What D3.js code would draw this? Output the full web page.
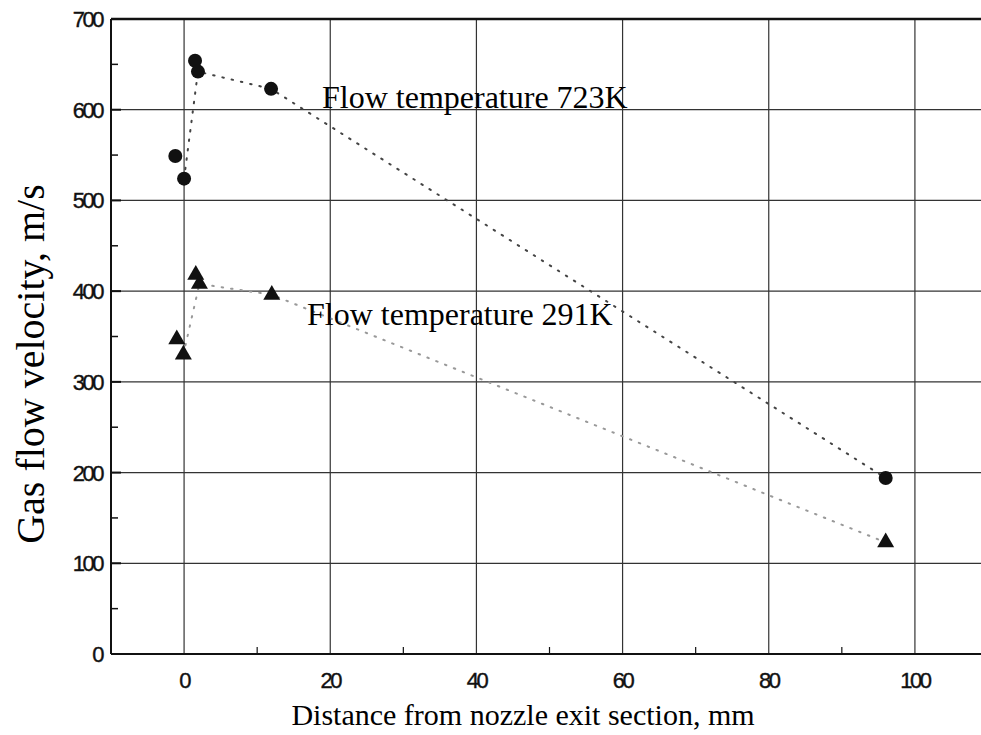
<!DOCTYPE html>
<html><head><meta charset="utf-8">
<script src="https://cdn.jsdelivr.net/npm/d3@7"></script>
<style>body{margin:0;background:#fff;} svg{display:block;}</style>
</head><body>
<script>
// ---- data ----
const hotX = [-1.2, 0, 1.5, 1.9, 11.9, 96];
const hotY = [549, 524, 654, 642, 623, 194];
const coldX = [1.6, 2.1, 12, -1.0, -0.1, 96];
const coldY = [418, 408, 396, 347, 330, 123];
const hotLineX = [0, 1.9, 11.9, 96];
const hotLineY = [524, 642, 623, 194];
const coldLineX = [-0.1, 2.1, 12, 96];
const coldLineY = [330, 408, 396, 123];
const xTicks = [0, 20, 40, 60, 80, 100];
const xMinor = [-10, 10, 30, 50, 70, 90, 110];
const yTicks = [0, 100, 200, 300, 400, 500, 600, 700];
const yMinor = [50, 150, 250, 350, 450, 550, 650];
const hotLabel = "Flow temperature 723K";
const coldLabel = "Flow temperature 291K";
const xTitle = "Distance from nozzle exit section, mm";
const yTitle = "Gas flow velocity, m/s";

const W = 981, H = 735;
const L = 111, R = 988, T = 19, B = 654;
const svg = d3.select("body").append("svg").attr("width", W).attr("height", H);
const x = d3.scaleLinear().domain([-10, 110]).range([L, R]);
const y = d3.scaleLinear().domain([0, 700]).range([B, T]);

// grid
const g = svg.append("g");
g.selectAll("line.vg").data(xTicks).enter().append("line")
  .attr("x1", d => x(d)).attr("x2", d => x(d)).attr("y1", T).attr("y2", B)
  .attr("stroke", "#333").attr("stroke-width", 1.2);
g.selectAll("line.hg").data(yTicks.filter(d => d > 0 && d < 700)).enter().append("line")
  .attr("x1", L).attr("x2", R).attr("y1", d => y(d)).attr("y2", d => y(d))
  .attr("stroke", "#333").attr("stroke-width", 1.2);

// minor ticks
g.selectAll("line.xm").data(xMinor).enter().append("line")
  .attr("x1", d => x(d)).attr("x2", d => x(d)).attr("y1", B).attr("y2", B - 7)
  .attr("stroke", "#111").attr("stroke-width", 1.2);
g.selectAll("line.ym").data(yMinor).enter().append("line")
  .attr("x1", L).attr("x2", L + 7).attr("y1", d => y(d)).attr("y2", d => y(d))
  .attr("stroke", "#111").attr("stroke-width", 1.5);
g.selectAll("line.yM").data(yTicks).enter().append("line")
  .attr("x1", L).attr("x2", L + 10).attr("y1", d => y(d)).attr("y2", d => y(d))
  .attr("stroke", "#111").attr("stroke-width", 2);

// frame
svg.append("line").attr("x1", L).attr("x2", L).attr("y1", T).attr("y2", B).attr("stroke", "#111").attr("stroke-width", 2);
svg.append("line").attr("x1", L).attr("x2", R).attr("y1", B).attr("y2", B).attr("stroke", "#111").attr("stroke-width", 2);
svg.append("line").attr("x1", L).attr("x2", R).attr("y1", T).attr("y2", T).attr("stroke", "#111").attr("stroke-width", 2.5);

// tick labels
const tickFont = "'Liberation Sans Narrow', 'Arial Narrow', 'Liberation Sans', sans-serif";
svg.selectAll("text.xl").data(xTicks).enter().append("text")
  .attr("x", d => x(d)).attr("y", 688).attr("text-anchor", "middle")
  .attr("font-family", tickFont).attr("font-size", 22).attr("letter-spacing", -2.5)
  .attr("fill", "#111").attr("stroke", "#111").attr("stroke-width", 0.4).text(d => d);
svg.selectAll("text.yl").data(yTicks).enter().append("text")
  .attr("x", 102).attr("y", d => y(d) + 8).attr("text-anchor", "end")
  .attr("font-family", tickFont).attr("font-size", 22).attr("letter-spacing", -2.5)
  .attr("fill", "#111").attr("stroke", "#111").attr("stroke-width", 0.4).text(d => d);

// dotted lines
const line = d3.line().x(d => x(d[0])).y(d => y(d[1]));
svg.append("path").datum(hotLineX.map((v, i) => [v, hotLineY[i]]))
  .attr("d", line).attr("fill", "none").attr("stroke", "#444")
  .attr("stroke-width", 2).attr("stroke-dasharray", "1.5,8").attr("stroke-linecap", "round");
svg.append("path").datum(coldLineX.map((v, i) => [v, coldLineY[i]]))
  .attr("d", line).attr("fill", "none").attr("stroke", "#999")
  .attr("stroke-width", 2).attr("stroke-dasharray", "1.5,8").attr("stroke-linecap", "round");

// markers
svg.selectAll("circle.hot").data(hotX.map((v, i) => [v, hotY[i]])).enter().append("circle")
  .attr("cx", d => x(d[0])).attr("cy", d => y(d[1])).attr("r", 7).attr("fill", "#111");
const tri = d3.symbol().type(d3.symbolTriangle).size(125);
svg.selectAll("path.cold").data(coldX.map((v, i) => [v, coldY[i]])).enter().append("path")
  .attr("d", tri).attr("transform", d => `translate(${x(d[0])},${y(d[1])})`).attr("fill", "#111");

// annotations
const serif = "'Liberation Serif', 'Times New Roman', serif";
svg.append("text").attr("x", 322).attr("y", 108).attr("font-family", serif).attr("font-size", 32)
  .attr("fill", "#000").text(hotLabel);
svg.append("text").attr("x", 307).attr("y", 325).attr("font-family", serif).attr("font-size", 32)
  .attr("fill", "#000").text(coldLabel);

// axis titles
svg.append("text").attr("x", 523).attr("y", 725).attr("text-anchor", "middle")
  .attr("font-family", serif).attr("font-size", 30).attr("fill", "#000").text(xTitle);
svg.append("text").attr("transform", "translate(44,364) rotate(-90)").attr("text-anchor", "middle")
  .attr("font-family", serif).attr("font-size", 40).attr("fill", "#000").text(yTitle);
</script>
</body></html>
